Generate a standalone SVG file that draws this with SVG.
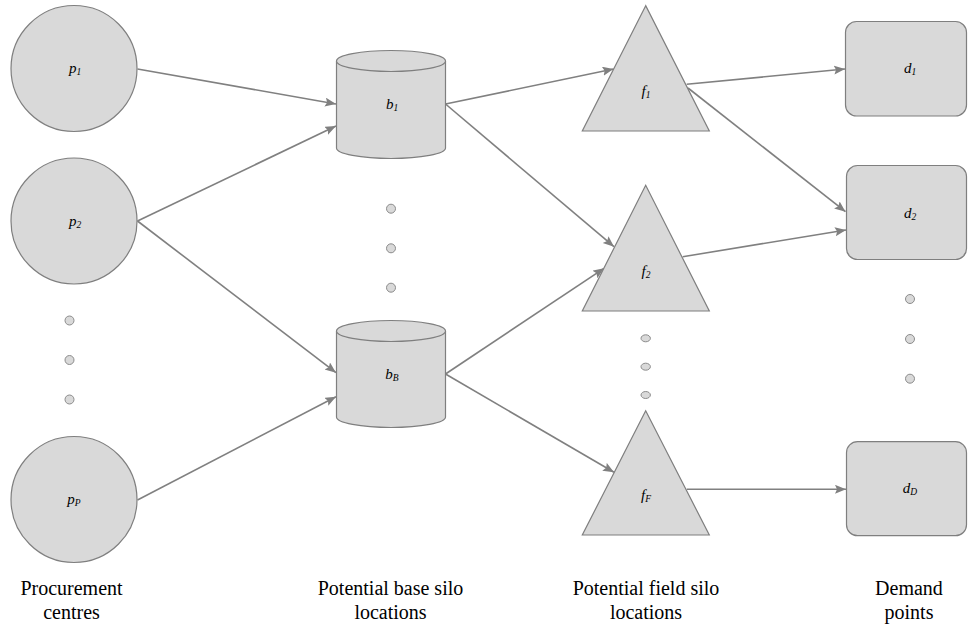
<svg xmlns="http://www.w3.org/2000/svg" width="968" height="630" viewBox="0 0 968 630">
<style>
.node{fill:#d9d9d9;stroke:#7f7f7f;stroke-width:1.2}
.dot{fill:#d9d9d9;stroke:#8c8c8c;stroke-width:1}
.edge{fill:none;stroke:#808080;stroke-width:1.6;marker-end:url(#arr)}
.lbl{font-style:italic;font-size:15px;fill:#000;text-anchor:middle}
.sub{font-size:9.5px}
.cap{font-size:20px;fill:#000;text-anchor:middle}
</style>
<defs>
<marker id="arr" markerUnits="userSpaceOnUse" markerWidth="12" markerHeight="10" refX="11" refY="4.5" orient="auto">
<path d="M0,0 L11,4.5 L0,9 L2,4.5 z" fill="#808080"/>
</marker>
</defs>
<rect width="968" height="630" fill="#fff"/>

<g id="connectors">
<line class="edge" x1="137.5" y1="69" x2="336" y2="104"/>
<line class="edge" x1="137.5" y1="221" x2="336" y2="126"/>
<line class="edge" x1="137.5" y1="221" x2="336" y2="372.7"/>
<line class="edge" x1="137.5" y1="500" x2="336" y2="396.7"/>
<line class="edge" x1="445.5" y1="104" x2="613.5" y2="69"/>
<line class="edge" x1="445.5" y1="104" x2="614" y2="246.7"/>
<line class="edge" x1="445.5" y1="374" x2="604" y2="268.3"/>
<line class="edge" x1="445.5" y1="374" x2="614" y2="472.3"/>
<line class="edge" x1="686.7" y1="84.3" x2="845" y2="69"/>
<line class="edge" x1="688" y1="88" x2="845.5" y2="211.7"/>
<line class="edge" x1="682.7" y1="256.7" x2="846" y2="230"/>
<line class="edge" x1="686.7" y1="489.3" x2="846" y2="489.3"/>
</g>

<g font-family="Liberation Serif, Times New Roman, serif">
<g id="p1"><circle class="node" cx="74" cy="68.5" r="63"/><text class="lbl" x="75" y="73">p<tspan class="sub" dy="2">1</tspan></text></g>
<g id="p2"><circle class="node" cx="74" cy="221" r="63"/><text class="lbl" x="75" y="226">p<tspan class="sub" dy="2">2</tspan></text></g>
<g id="pP"><circle class="node" cx="74" cy="499.5" r="63"/><text class="lbl" x="74" y="504">p<tspan class="sub" dy="2">P</tspan></text></g>
<g id="p-dots"><circle class="dot" cx="69.5" cy="320.5" r="4.5"/><circle class="dot" cx="69.5" cy="360" r="4.5"/><circle class="dot" cx="69.5" cy="399.5" r="4.5"/></g>

<g id="b1"><path class="node" d="M336.5,61 A54.5,10.5 0 0 1 445.5,61 V148 A54.5,10.5 0 0 1 336.5,148 Z"/><path class="node" fill="none" d="M336.5,61 A54.5,10.5 0 0 0 445.5,61"/><text class="lbl" x="392" y="109">b<tspan class="sub" dy="2">1</tspan></text></g>
<g id="bB"><path class="node" d="M336.5,331 A54.5,10.5 0 0 1 445.5,331 V417 A54.5,10.5 0 0 1 336.5,417 Z"/><path class="node" fill="none" d="M336.5,331 A54.5,10.5 0 0 0 445.5,331"/><text class="lbl" x="392" y="379">b<tspan class="sub" dy="2">B</tspan></text></g>
<g id="b-dots"><circle class="dot" cx="391" cy="208.7" r="4.5"/><circle class="dot" cx="391" cy="248.3" r="4.5"/><circle class="dot" cx="391" cy="287.7" r="4.5"/></g>

<g id="f1"><polygon class="node" points="645.7,5.7 582.3,131 709.3,131"/><text class="lbl" x="646" y="96">f<tspan class="sub" dy="2">1</tspan></text></g>
<g id="f2"><polygon class="node" points="645.7,185.3 582.3,311 709.3,311"/><text class="lbl" x="646" y="276">f<tspan class="sub" dy="2">2</tspan></text></g>
<g id="fF"><polygon class="node" points="645.7,410.7 582.3,535 709.3,535"/><text class="lbl" x="646" y="500">f<tspan class="sub" dy="2">F</tspan></text></g>
<g id="f-dots"><ellipse class="dot" cx="645.7" cy="338.3" rx="4.7" ry="3.5"/><ellipse class="dot" cx="645.7" cy="366.7" rx="4.7" ry="3.5"/><ellipse class="dot" cx="645.7" cy="395" rx="4.7" ry="3.5"/></g>

<g id="d1"><rect class="node" x="845.5" y="21.5" width="121" height="94.5" rx="11"/><text class="lbl" x="910" y="73">d<tspan class="sub" dy="2">1</tspan></text></g>
<g id="d2"><rect class="node" x="846.5" y="165.5" width="120" height="94" rx="11"/><text class="lbl" x="910" y="218">d<tspan class="sub" dy="2">2</tspan></text></g>
<g id="dD"><rect class="node" x="846.5" y="441.7" width="120" height="94" rx="11"/><text class="lbl" x="910" y="493">d<tspan class="sub" dy="2">D</tspan></text></g>
<g id="d-dots"><circle class="dot" cx="910" cy="299" r="4.5"/><circle class="dot" cx="910" cy="339" r="4.5"/><circle class="dot" cx="910" cy="378.7" r="4.5"/></g>

<g id="captions">
<text class="cap" x="71.5" y="595">Procurement<tspan x="71.5" dy="24">centres</tspan></text>
<text class="cap" x="390.5" y="595">Potential base silo<tspan x="390.5" dy="24">locations</tspan></text>
<text class="cap" x="646" y="595">Potential field silo<tspan x="646" dy="24">locations</tspan></text>
<text class="cap" x="909" y="595">Demand<tspan x="909" dy="24">points</tspan></text>
</g>
</g>
</svg>
